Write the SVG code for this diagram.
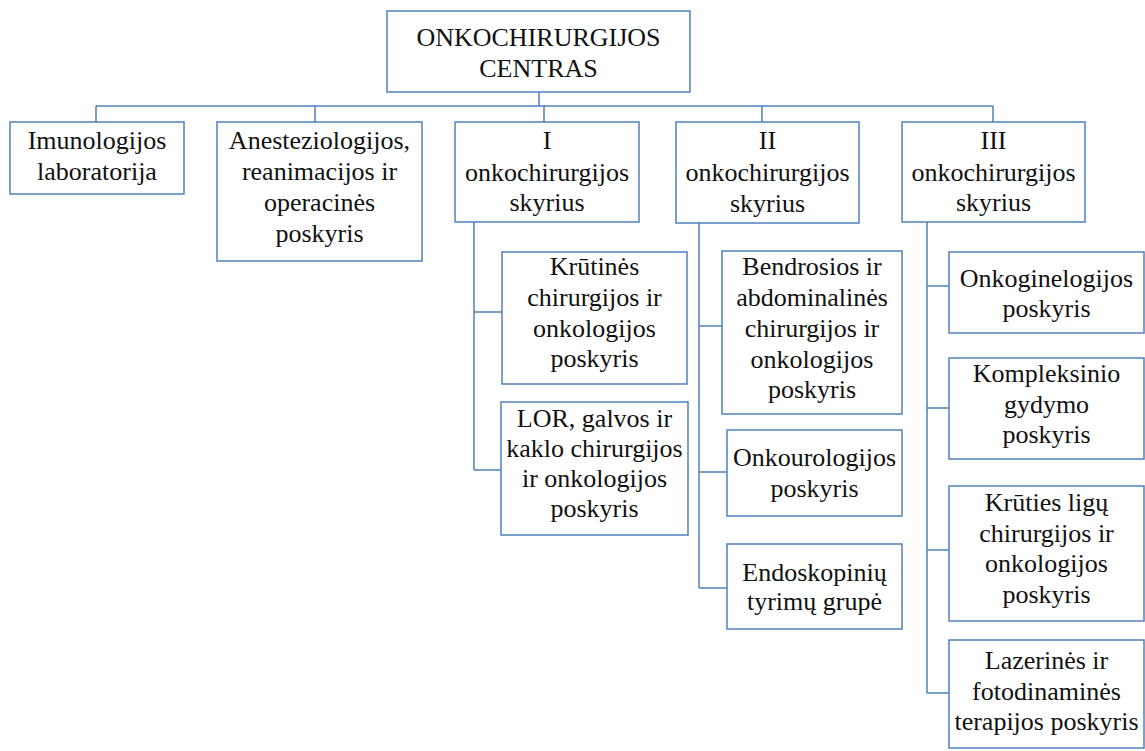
<svg xmlns="http://www.w3.org/2000/svg" width="1145" height="751" viewBox="0 0 1145 751">
<style>
.box{fill:#fff;stroke:#4F81BD;stroke-width:1.5}
.ln{fill:none;stroke:#4F81BD;stroke-width:1.5}
.t{font-family:'Liberation Serif','Times New Roman',serif;font-size:26px;fill:#111;text-anchor:middle}
</style>
<rect width="1145" height="751" fill="#fff"/>
<g id="connectors">
<path class="ln" d="M539,92 V106 M96,106 H993 M96,106 V122 M315,106 V122 M544,106 V122 M762,106 V122 M993,106 V122"/>
<path class="ln" d="M474,222 V470 M474,312 H502 M474,470 H501"/>
<path class="ln" d="M699,223 V588 M699,326 H722 M699,472 H727 M699,588 H727"/>
<path class="ln" d="M927,222 V693 M927,286 H949 M927,408 H949 M927,550 H949 M927,693 H949"/>
</g>
<g class="t">
<g id="n-centras"><rect class="box" x="387" y="11" width="303" height="81"/><text x="538.5" y="46">ONKOCHIRURGIJOS</text><text x="538.5" y="77">CENTRAS</text></g>
<g id="n-imun"><rect class="box" x="10" y="122" width="174" height="72"/><text x="97" y="149">Imunologijos</text><text x="97" y="180">laboratorija</text></g>
<g id="n-anest"><rect class="box" x="217" y="122" width="205" height="139"/><text x="319.5" y="149">Anesteziologijos,</text><text x="319.5" y="180">reanimacijos ir</text><text x="319.5" y="211">operacinės</text><text x="319.5" y="242">poskyris</text></g>
<g id="n-I"><rect class="box" x="455" y="122" width="184" height="100"/><text x="547" y="149">I</text><text x="547" y="181">onkochirurgijos</text><text x="547" y="211">skyrius</text></g>
<g id="n-II"><rect class="box" x="676" y="122" width="183" height="101"/><text x="767.5" y="149">II</text><text x="767.5" y="181">onkochirurgijos</text><text x="767.5" y="212">skyrius</text></g>
<g id="n-III"><rect class="box" x="902" y="122" width="183" height="100"/><text x="993.5" y="149">III</text><text x="993.5" y="181">onkochirurgijos</text><text x="993.5" y="211">skyrius</text></g>
<g id="n-krutines"><rect class="box" x="502" y="252" width="185" height="132"/><text x="594.5" y="275">Krūtinės</text><text x="594.5" y="306">chirurgijos ir</text><text x="594.5" y="337">onkologijos</text><text x="594.5" y="367">poskyris</text></g>
<g id="n-lor"><rect class="box" x="501" y="402" width="187" height="133"/><text x="594.5" y="427">LOR, galvos ir</text><text x="594.5" y="457">kaklo chirurgijos</text><text x="594.5" y="487">ir onkologijos</text><text x="594.5" y="517">poskyris</text></g>
<g id="n-bendrosios"><rect class="box" x="722" y="251" width="180" height="163"/><text x="812" y="275">Bendrosios ir</text><text x="812" y="306">abdominalinės</text><text x="812" y="337">chirurgijos ir</text><text x="812" y="368">onkologijos</text><text x="812" y="398">poskyris</text></g>
<g id="n-onkourol"><rect class="box" x="727" y="430" width="175" height="86"/><text x="814.5" y="466">Onkourologijos</text><text x="814.5" y="497">poskyris</text></g>
<g id="n-endosk"><rect class="box" x="727" y="544" width="175" height="85"/><text x="814.5" y="581">Endoskopinių</text><text x="814.5" y="610">tyrimų grupė</text></g>
<g id="n-onkogin"><rect class="box" x="949" y="252" width="195" height="81"/><text x="1046.5" y="287">Onkoginelogijos</text><text x="1046.5" y="317">poskyris</text></g>
<g id="n-kompleks"><rect class="box" x="949" y="358" width="195" height="101"/><text x="1046.5" y="382">Kompleksinio</text><text x="1046.5" y="413">gydymo</text><text x="1046.5" y="443">poskyris</text></g>
<g id="n-kruties"><rect class="box" x="949" y="486" width="195" height="135"/><text x="1046.5" y="511">Krūties ligų</text><text x="1046.5" y="542">chirurgijos ir</text><text x="1046.5" y="572">onkologijos</text><text x="1046.5" y="603">poskyris</text></g>
<g id="n-lazer"><rect class="box" x="949" y="640" width="195" height="108"/><text x="1046.5" y="669">Lazerinės ir</text><text x="1046.5" y="700">fotodinaminės</text><text x="1046.5" y="730">terapijos poskyris</text></g>
</g>
</svg>
